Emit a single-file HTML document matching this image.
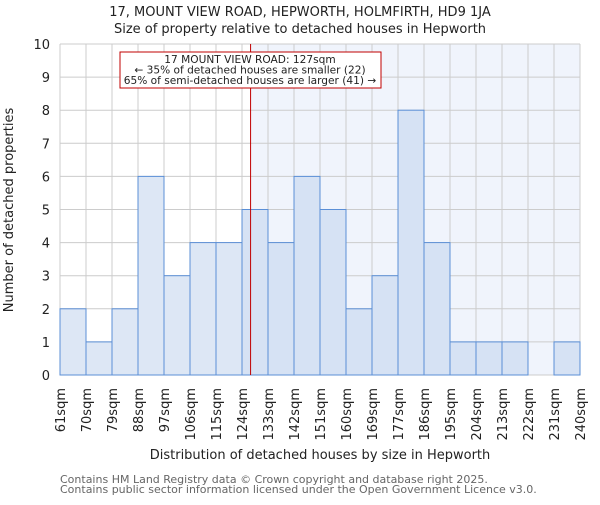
<!DOCTYPE html>
<html><head><meta charset="utf-8"><style>body{margin:0;background:#fff}svg{font-family:"DejaVu Sans","Liberation Sans",sans-serif}</style></head>
<body>
<svg id="c" width="600" height="500"></svg>
<script>
const categories=["61sqm","70sqm","79sqm","88sqm","97sqm","106sqm","115sqm","124sqm","133sqm","142sqm","151sqm","160sqm","169sqm","177sqm","186sqm","195sqm","204sqm","213sqm","222sqm","231sqm","240sqm"];
const counts=[2,1,2,6,3,4,4,5,4,6,5,2,3,8,4,1,1,1,0,1];
const yTicks=[0,1,2,3,4,5,6,7,8,9,10];
const propertyBin=7.33;
const NS="http://www.w3.org/2000/svg",svg=document.getElementById('c');
const X0=60,X1=580,Y0=375,Y1=44,n=counts.length;
const x=i=>X0+(X1-X0)*i/n, y=v=>Y0-(Y0-Y1)*v/10;
function el(t,a,txt){const e=document.createElementNS(NS,t);for(const k in a)e.setAttribute(k,a[k]);if(txt!=null)e.textContent=txt;svg.appendChild(e);return e;}
let e;
e=el('rect',{x:x(propertyBin),y:Y1,width:X1-x(propertyBin),height:Y0-Y1,fill:'#f0f4fc'});

for(let i=0;i<=n;i++){e=el('line',{x1:x(i),x2:x(i),y1:Y1,y2:Y0,stroke:'#cccccc','stroke-width':1});}
yTicks.forEach(v=>{e=el('line',{x1:X0,x2:X1,y1:y(v),y2:y(v),stroke:'#cccccc','stroke-width':1});
e=el('text',{x:X0-10,y:y(v)+5,'text-anchor':'end','font-size':13,fill:'#222'},v);});
counts.forEach((v,i)=>{if(v<=0)return;e=el('rect',{x:x(i),y:y(v),width:x(i+1)-x(i),height:Y0-y(v),fill:i>=7?'#d6e2f4':'#dde7f5',stroke:'#5b8fd6','stroke-width':1});});
categories.forEach((c,i)=>{e=el('text',{transform:`translate(${x(i)+5},388) rotate(-90)`,'text-anchor':'end','font-size':13,fill:'#222'},c);});
e=el('line',{x1:x(propertyBin),x2:x(propertyBin),y1:Y1,y2:Y0,stroke:'#c00000','stroke-width':1});
e=el('rect',{x:120,y:52,width:261,height:36,fill:'#fff',stroke:'#c00000','stroke-width':1});
["17 MOUNT VIEW ROAD: 127sqm","← 35% of detached houses are smaller (22)","65% of semi-detached houses are larger (41) →"].forEach((t,k)=>{e=el('text',{x:250,y:63+k*10.5,'text-anchor':'middle','font-size':10.6,fill:'#222'},t);});
e=el('text',{x:300,y:16,'text-anchor':'middle','font-size':13,fill:'#222'},"17, MOUNT VIEW ROAD, HEPWORTH, HOLMFIRTH, HD9 1JA");
e=el('text',{x:300,y:33,'text-anchor':'middle','font-size':13,fill:'#222'},"Size of property relative to detached houses in Hepworth");
e=el('text',{x:320,y:459,'text-anchor':'middle','font-size':13,fill:'#222'},"Distribution of detached houses by size in Hepworth");
e=el('text',{transform:'translate(13,210) rotate(-90)','text-anchor':'middle','font-size':13,fill:'#222'},"Number of detached properties");
e=el('text',{x:60,y:483,'font-size':11,fill:'#666'},"Contains HM Land Registry data © Crown copyright and database right 2025.");
e=el('text',{x:60,y:493,'font-size':11,fill:'#666'},"Contains public sector information licensed under the Open Government Licence v3.0.");
</script>
</body></html>
